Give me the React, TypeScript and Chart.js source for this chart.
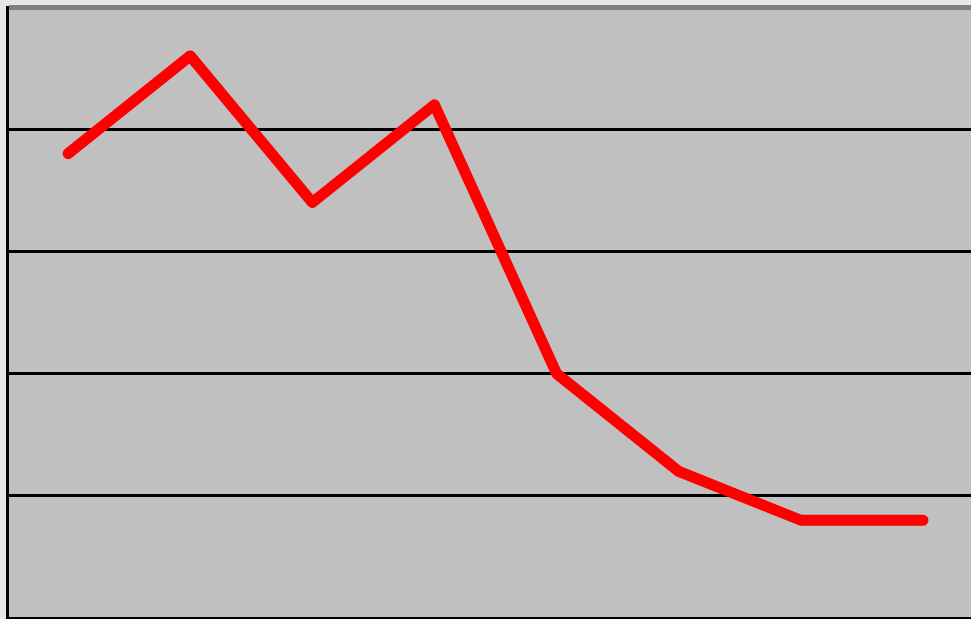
import React, { useEffect, useRef } from "react";
import { Chart, registerables } from "chart.js";

Chart.register(...registerables);

const categories = ["1", "2", "3", "4", "5", "6", "7", "8"];
const seriesValues = [38, 46, 34, 42, 20, 12, 8, 8];
const yTicks = [0, 10, 20, 30, 40, 50];

const plotBg = {
  id: "plotBg",
  beforeDraw(chart: any) {
    const { ctx, chartArea } = chart;
    ctx.save();
    ctx.fillStyle = "#c0c0c0";
    ctx.fillRect(chartArea.left, chartArea.top, chartArea.right - chartArea.left, chartArea.bottom - chartArea.top);
    ctx.restore();
  },
};

export default function App() {
  const ref = useRef<HTMLCanvasElement>(null);
  useEffect(() => {
    document.body.style.margin = "0";
    const top = yTicks[yTicks.length - 1];
    const chart = new Chart(ref.current!, {
      type: "line",
      data: {
        labels: categories,
        datasets: [
          {
            data: seriesValues,
            borderColor: "#ff0000",
            borderWidth: 11,
            borderCapStyle: "round",
            borderJoinStyle: "round",
            pointRadius: 0,
            tension: 0,
            fill: false,
          },
        ],
      },
      options: {
        animation: false,
        responsive: false,
        devicePixelRatio: 1,
        layout: { padding: { top: 7, left: 7, right: 16, bottom: 4 } },
        plugins: { legend: { display: false }, tooltip: { enabled: false } },
        scales: {
          x: {
            type: "category",
            offset: true,
            ticks: { display: false },
            grid: { display: false, drawTicks: false },
            border: { display: true, color: "#000", width: 3 },
          },
          y: {
            min: yTicks[0],
            max: top,
            ticks: { display: false, stepSize: 10 },
            grid: {
              drawTicks: false,
              lineWidth: (c: any) => (c.tick && c.tick.value === top ? 5 : 3),
              color: (c: any) => (c.tick && c.tick.value === top ? "#7f7f7f" : "#000"),
            },
            border: { display: true, color: "#000", width: 3 },
          },
        },
      },
      plugins: [plotBg],
    });
    return () => chart.destroy();
  }, []);
  return (
    <div style={{ position: "fixed", top: 0, left: 0, width: 971, height: 619, overflow: "hidden", background: "#e6e6e6" }}>
      <canvas ref={ref} width={1000} height={622} style={{ position: "absolute", top: 0, left: 0 }} />
    </div>
  );
}
